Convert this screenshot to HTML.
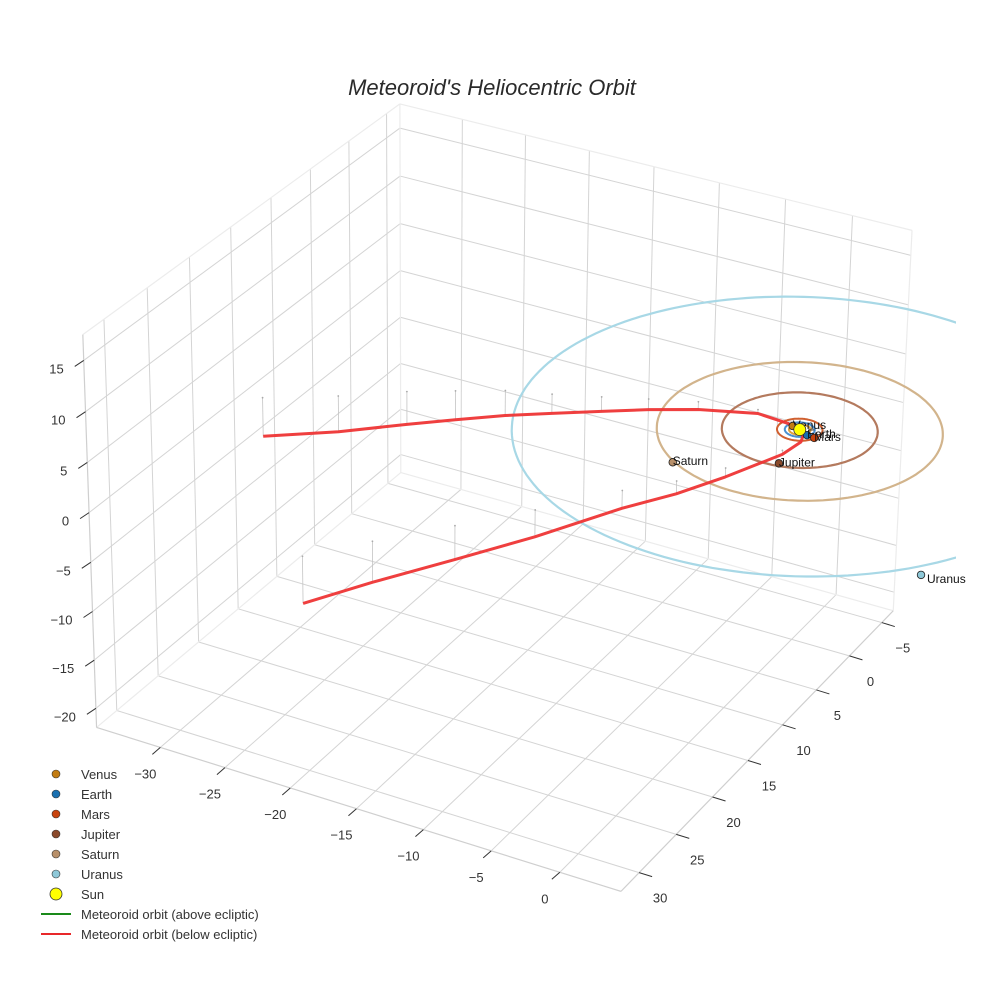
<!DOCTYPE html>
<html><head><meta charset="utf-8">
<style>
html,body{margin:0;padding:0;background:#fff;}
svg{display:block;font-family:"Liberation Sans",Arial,sans-serif;}
</style></head>
<body>
<svg id="chart" width="984" height="984" viewBox="0 0 984 984" xmlns="http://www.w3.org/2000/svg">
<defs><clipPath id="clipOrb"><rect x="0" y="0" width="956" height="984"/></clipPath></defs>
<text x="492" y="95" text-anchor="middle" font-size="22" font-style="italic" fill="#2a2a2a">Meteoroid's Heliocentric Orbit</text>
<g id="grid"></g>
<g id="axes"></g>
<g id="orbits" clip-path="url(#clipOrb)"></g>
<g id="meteor"></g>
<g id="planets"></g>
<g id="legend"></g>
</svg>
<script>
// ---- data ----
const xTicks = [-30,-25,-20,-15,-10,-5,0];
const yTicks = [-5,0,5,10,15,20,25,30];
const zTicks = [-20,-15,-10,-5,0,5,10,15];
const xRange = [-35, 4.4];
const yRange = [-6.8, 32.4];
const zRange = [-22, 17.5];

const planetNames = ["Venus","Earth","Mars","Jupiter","Saturn","Uranus"];
const planetX = [-0.64, 0.77, 1.35, 0.87, -5.3, 15.3];
const planetY = [-0.22, 0.44, 0.54, 4.77, 8.07, 13.2];
const planetZ = [0, 0, 0, 0, 0, 0];
const orbitRadius = [0.72, 1.0, 1.52, 5.2, 9.54, 19.2];
const planetColors = ["#c27c12","#1a70b0","#c8440e","#8b4a2b","#b8906a","#8ec8d8"];
const orbitColors = ["#e0a040","#4a90d0","#d06030","#b47a5e","#d2b48c","#a8d8e6"];

const meteorX = [-33.5,-29.2,-25.5,-22.7,-19.8,-16.8,-13.7,-10.8,-7.7,-3.7,-1.1,0.55,0.77,0.28,-1.9,-3.9,-6.4,-10.1,-13.6,-17.2,-20.1];
const meteorY = [13.8,11.1,8.3,6.6,4.9,3.8,2.5,1.2,-0.1,-1.1,-0.5,0.58,1.35,3.1,7.05,10.15,13.0,18.0,22.3,26.6,30.4];
const meteorZ = [-4.0,-3.7,-3.4,-3.0,-2.6,-2.0,-1.5,-1.1,-0.8,-0.4,-0.1,0,-0.1,-0.4,-0.9,-1.3,-1.8,-2.7,-3.4,-4.1,-4.7];

// ---- projection calibration (world -> screen) ----
const calib = [
 [xRange[0],yRange[1],zRange[1],81,334],
 [xRange[0],yRange[0],zRange[1],400,102],
 [xRange[1],yRange[0],zRange[1],911,240],
 [xRange[0],yRange[1],zRange[0],99,726],
 [xRange[1],yRange[1],zRange[0],618,895],
 [xRange[1],yRange[0],zRange[0],895,613],
 [xRange[0],yRange[0],zRange[0],396,478],
 [-30,yRange[1],zRange[0],163,747],
 [-15,yRange[1],zRange[0],357,810],
 [0,yRange[1],zRange[0],560,876],
 [xRange[1],30,zRange[0],636,872],
 [xRange[1],15,zRange[0],747,758],
 [xRange[1],0,zRange[0],849,653],
 [xRange[1],-5,zRange[0],883,619],
 [xRange[0],yRange[1],15,83,359],
 [xRange[0],yRange[1],0,90,513],
 [xRange[0],yRange[1],-20,97,708],
 [0,0,0,801,427],[0,0,0,801,427],[0,0,0,801,427],[0,0,0,801,427]
];
function solveDLT(pts){
  const n=11, A=[], b=[];
  pts.forEach(p=>{
    const [X,Y,Z,u,v]=p;
    A.push([X,Y,Z,1,0,0,0,0,-u*X,-u*Y,-u*Z]); b.push(u);
    A.push([0,0,0,0,X,Y,Z,1,-v*X,-v*Y,-v*Z]); b.push(v);
  });
  const M=[];for(let i=0;i<n;i++){M.push(new Array(n+1).fill(0));}
  for(let r=0;r<A.length;r++){for(let i=0;i<n;i++){for(let j=0;j<n;j++)M[i][j]+=A[r][i]*A[r][j];M[i][n]+=A[r][i]*b[r];}}
  for(let i=0;i<n;i++){
    let piv=i;for(let k=i+1;k<n;k++)if(Math.abs(M[k][i])>Math.abs(M[piv][i]))piv=k;
    [M[i],M[piv]]=[M[piv],M[i]];
    for(let k=0;k<n;k++){if(k===i)continue;const f=M[k][i]/M[i][i];for(let j=i;j<=n;j++)M[k][j]-=f*M[i][j];}
  }
  return M.map((row,i)=>row[n]/row[i]);
}
const P=solveDLT(calib);
function proj(x,y,z){
  const w=P[8]*x+P[9]*y+P[10]*z+1;
  return [(P[0]*x+P[1]*y+P[2]*z+P[3])/w,(P[4]*x+P[5]*y+P[6]*z+P[7])/w];
}
const NS="http://www.w3.org/2000/svg";
function mk(tag,attrs,parent){const e=document.createElementNS(NS,tag);for(const k in attrs)e.setAttribute(k,attrs[k]);parent.appendChild(e);return e;}
function line3(a,b,parent,stroke,w){const p=proj(...a),q=proj(...b);return mk('line',{x1:p[0],y1:p[1],x2:q[0],y2:q[1],stroke:stroke,'stroke-width':w},parent);}

const [x0,x1]=xRange,[y0,y1]=yRange,[z0,z1]=zRange;
const grid=document.getElementById('grid');
const gc="#d4d4d4";
yTicks.forEach(t=>{const l=line3([x0,t,z0],[x0,t,z1],grid,gc,1);

});
zTicks.forEach(t=>{const l=line3([x0,y0,t],[x0,y1,t],grid,gc,1);


const l2=line3([x0,y0,t],[x1,y0,t],grid,gc,1);

});
xTicks.forEach(t=>{const l=line3([t,y0,z0],[t,y0,z1],grid,gc,1);


const l2=line3([t,y0,z0],[t,y1,z0],grid,gc,1);

});
yTicks.forEach(t=>{const l=line3([x0,t,z0],[x1,t,z0],grid,gc,1);

});
const ec="#ececec";
[[[x0,y1,z1],[x0,y0,z1]],[[x0,y0,z1],[x1,y0,z1]],[[x0,y0,z0],[x0,y0,z1]],[[x0,y0,z0],[x0,y1,z0]],[[x0,y0,z0],[x1,y0,z0]],[[x1,y0,z0],[x1,y0,z1]]].forEach(e=>{
  const l=line3(e[0],e[1],grid,ec,1.2);
  
  
});
[[[x0,y1,z0],[x0,y1,z1]],[[x0,y1,z0],[x1,y1,z0]],[[x1,y1,z0],[x1,y0,z0]]].forEach(e=>{
  const l=line3(e[0],e[1],grid,"#cfcfcf",1.2);
  
  
});

const axes=document.getElementById('axes');
function fmt(v){return v<0?'\u2212'+Math.abs(v):String(v);}
xTicks.forEach(t=>{const p=proj(t,y1,z0);
  const l=mk('line',{x1:p[0],y1:p[1],x2:p[0]-8,y2:p[1]+7,stroke:'#333','stroke-width':1},axes);
  
  
  const tx=mk('text',{x:p[0]-15,y:p[1]+31,'text-anchor':'middle','font-size':13,fill:'#333'},axes);tx.textContent=fmt(t);
  
  });
yTicks.forEach(t=>{const p=proj(x1,t,z0);
  const l=mk('line',{x1:p[0],y1:p[1],x2:p[0]+13,y2:p[1]+4,stroke:'#333','stroke-width':1},axes);
  
  
  const tx=mk('text',{x:p[0]+21,y:p[1]+30,'text-anchor':'middle','font-size':13,fill:'#333'},axes);tx.textContent=fmt(t);
  
  });
zTicks.forEach(t=>{const p=proj(x0,y1,t);
  const l=mk('line',{x1:p[0],y1:p[1],x2:p[0]-9,y2:p[1]+6,stroke:'#333','stroke-width':1},axes);
  
  
  const tx=mk('text',{x:p[0]-20,y:p[1]+13,'text-anchor':'end','font-size':13,fill:'#333'},axes);tx.textContent=fmt(t);
  
  });

const orbits=document.getElementById('orbits');
const orbitOrder=[5,4,3,2,1,0];
orbitOrder.forEach(i=>{
  const pts=[];for(let k=0;k<=180;k++){const a=k/180*2*Math.PI;const p=proj(orbitRadius[i]*Math.cos(a),orbitRadius[i]*Math.sin(a),0);pts.push(p[0].toFixed(1)+','+p[1].toFixed(1));}
  const pl=mk('polyline',{points:pts.join(' '),fill:'none',stroke:orbitColors[i],'stroke-width':i<3?2:2.2},orbits);
  
  
});

const met=document.getElementById('meteor');
meteorX.forEach((mx,i)=>{
  const a=proj(mx,meteorY[i],meteorZ[i]),b=proj(mx,meteorY[i],0);
  const l=mk('line',{x1:a[0],y1:a[1],x2:b[0],y2:b[1],stroke:'#c4c4c4','stroke-width':0.8},met);
  
  
  const c=mk('circle',{cx:b[0],cy:b[1],r:0.9,fill:'#aaa'},met);
  
  
});
const mpts=meteorX.map((mx,i)=>proj(mx,meteorY[i],meteorZ[i]).map(v=>v.toFixed(1)).join(','));
const mline=mk('polyline',{points:mpts.join(' '),fill:'none',stroke:'#ee3535','stroke-width':3,'stroke-linejoin':'round','stroke-opacity':0.95},met);



const pg=document.getElementById('planets');
planetNames.forEach((nm,i)=>{
  const p=proj(planetX[i],planetY[i],planetZ[i]);
  const c=mk('circle',{cx:p[0],cy:p[1],r:3.8,fill:planetColors[i],stroke:'#222','stroke-width':0.8},pg);
  
  
  const t=mk('text',{x:p[0]+(nm==='Uranus'?6:0),y:p[1]+(nm==='Uranus'?8:3),'font-size':12,fill:'#111'},pg);t.textContent=nm;
  
  
});
const sp=proj(0,0,0);
const sun=mk('circle',{cx:sp[0],cy:sp[1],r:6,fill:'#ffff00',stroke:'#333','stroke-width':0.8},pg);



const lg=document.getElementById('legend');
const legNames=planetNames.concat(["Sun","Meteoroid orbit (above ecliptic)","Meteoroid orbit (below ecliptic)"]);
legNames.forEach((nm,i)=>{
  const y=774+i*20;
  const g=mk('g',{},lg);
  
  
  if(i<6){mk('circle',{cx:56,cy:y,r:4,fill:planetColors[i],stroke:'#333','stroke-width':0.6},g);}
  else if(i===6){mk('circle',{cx:56,cy:y,r:6,fill:'#ffff00',stroke:'#333','stroke-width':0.8},g);}
  else{mk('line',{x1:41,y1:y,x2:71,y2:y,stroke:i===7?'#1a8a1a':'#e8282a','stroke-width':2},g);}
  const t=mk('text',{x:81,y:y+5,'font-size':13,fill:'#333'},g);t.textContent=nm;
});
</script>
</body></html>
